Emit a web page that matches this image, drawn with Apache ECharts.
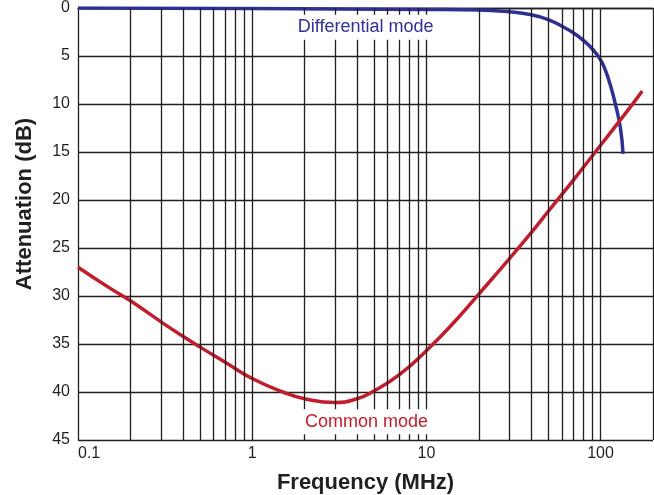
<!DOCTYPE html>
<html>
<head>
<meta charset="utf-8">
<script src="https://cdn.jsdelivr.net/npm/echarts@6/dist/echarts.min.js"></script>
<style>
html,body{margin:0;padding:0;background:#fff;}
#chart{width:654px;height:495px;}
</style>
</head>
<body>
<div id="chart"></div>
<script>
// Differential mode attenuation (MHz, dB)
const dmFreq = [0.1, 1, 10, 20, 30, 40, 50, 60, 70, 80, 90, 100, 106.4, 113.7, 121.6, 130, 134.6];
const dmAtt  = [0, 0.05, 0.15, 0.2, 0.4, 0.7, 1.2, 1.9, 2.6, 3.4, 4.3, 5.4, 6.45, 8.0, 10.0, 12.5, 15.2];
// Common mode attenuation (MHz, dB)
const cmFreq = [0.1, 0.15, 0.2, 0.3, 0.4, 0.5, 0.7, 1.0, 1.5, 2.0, 3.0, 4.0, 5.0, 7.0, 10, 15, 20, 30, 40, 50, 70, 100, 150, 173.5];
const cmAtt  = [27.0, 29.1, 30.5, 32.7, 34.2, 35.3, 36.9, 38.6, 40.0, 40.7, 41.1, 40.7, 39.9, 38.2, 35.7, 32.4, 29.8, 26.1, 23.4, 21.2, 17.9, 14.3, 10.2, 8.65];
// Axis ticks
const xTickLabels = ['0.1', '1', '10', '100'];
const gridFreqs = [0.2,0.3,0.4,0.5,0.6,0.7,0.8,0.9,1,2,3,4,5,6,7,8,9,10,20,30,40,50,60,70,80,90,100,200];
const yMin = 0, yMax = 45, yStep = 5;
// Annotations
const dmLabel = {text: 'Differential mode', freq: 4.48, att: 2.0};
const cmLabel = {text: 'Common mode', freq: 4.53, att: 43.1};

const zip = (a, b) => a.map((v, i) => [v, b[i]]);
const font = '"Liberation Sans", Arial, Helvetica, sans-serif';
const gridColor = '#231f20';
const blue = '#2e3192';
const red = '#be1e2d';

function textMark(lbl, color) {
  return {
    symbol: 'circle', symbolSize: 1, silent: true,
    itemStyle: {color: 'rgba(0,0,0,0)'},
    label: {show: true, position: 'inside', formatter: lbl.text, fontFamily: font, fontSize: 18, color: color,
            backgroundColor: '#fff', padding: [4, 2, 3, 2]},
    emphasis: {disabled: true},
    data: [{coord: [lbl.freq, lbl.att]}]
  };
}

const chart = echarts.init(document.getElementById('chart'), null, {renderer: 'canvas'});
chart.setOption({
  animation: false,
  backgroundColor: '#fff',
  grid: {left: 78, right: 1, top: 8, bottom: 55, containLabel: false, outerBoundsMode: 'none'},
  xAxis: {
    type: 'log', logBase: 10, min: 0.1, max: 200,
    name: 'Frequency (MHz)', nameLocation: 'middle', nameGap: 32,
    nameTextStyle: {fontFamily: font, fontSize: 22, fontWeight: 'bold', color: gridColor},
    axisLine: {show: true, lineStyle: {color: gridColor, width: 1.3}},
    axisTick: {show: false},
    splitLine: {show: false},
    axisLabel: {
      fontFamily: font, fontSize: 16, color: gridColor, margin: 6,
      alignMinLabel: 'left', showMaxLabel: false,
      formatter: v => { const e = Math.round(Math.log10(v)); const s = xTickLabels[e + 1]; return (s && Math.abs(Math.log10(v) - e) < 1e-6) ? s : ''; }
    }
  },
  yAxis: {
    type: 'value', inverse: true, min: yMin, max: yMax, interval: yStep,
    name: 'Attenuation (dB)', nameLocation: 'middle', nameGap: 42,
    nameTextStyle: {fontFamily: font, fontSize: 22, fontWeight: 'bold', color: gridColor, padding: [0, 0, 0, 40]},
    axisLine: {show: true, lineStyle: {color: gridColor, width: 1.3}},
    axisTick: {show: false},
    splitLine: {show: true, lineStyle: {color: gridColor, width: 1.3}},
    axisLabel: {fontFamily: font, fontSize: 16, color: gridColor, margin: 8}
  },
  series: [
    {
      type: 'line', data: [], z: 1, silent: true,
      markLine: {
        silent: true, symbol: 'none', animation: false,
        label: {show: false},
        lineStyle: {type: 'solid', color: gridColor, width: 1.3},
        emphasis: {disabled: true},
        data: gridFreqs.map(f => ({xAxis: f}))
      }
    },
    {
      name: 'Differential mode', type: 'line', z: 3,
      data: zip(dmFreq, dmAtt), smooth: 0.5, showSymbol: false,
      lineStyle: {color: blue, width: 3.5}, itemStyle: {color: blue},
      markPoint: textMark(dmLabel, blue)
    },
    {
      name: 'Common mode', type: 'line', z: 3,
      data: zip(cmFreq, cmAtt), smooth: 0.5, showSymbol: false,
      lineStyle: {color: red, width: 3.5}, itemStyle: {color: red},
      markPoint: textMark(cmLabel, red)
    }
  ]
});
</script>
</body>
</html>
